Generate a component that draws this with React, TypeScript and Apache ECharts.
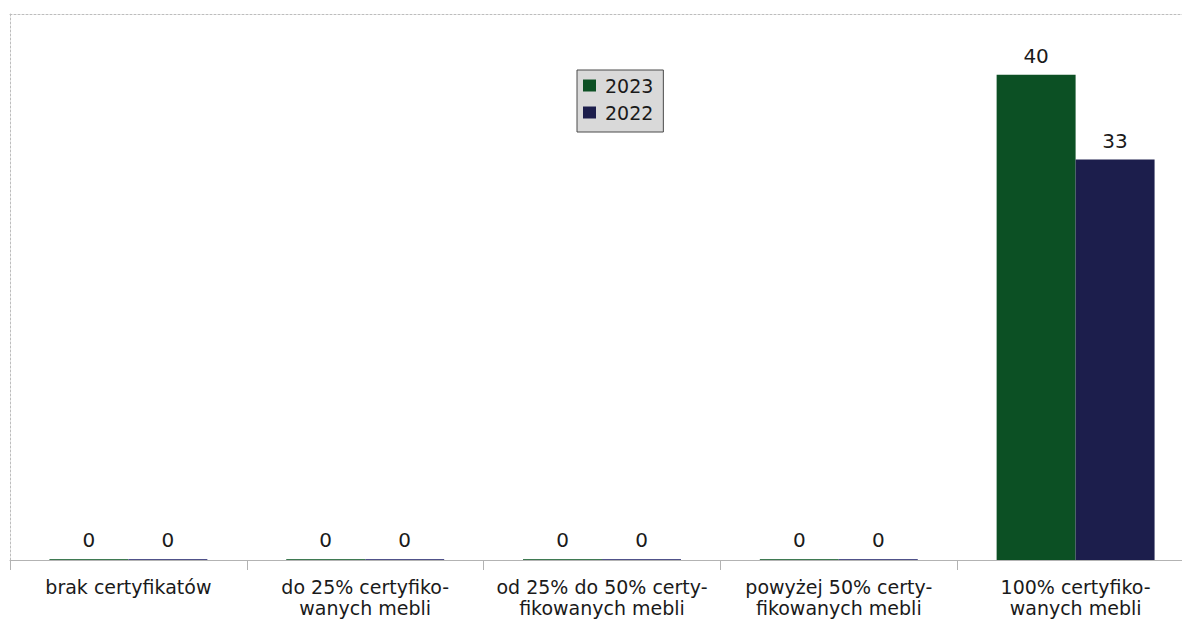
import React, { useEffect, useRef } from "react";
import * as echarts from "echarts";

const categories = [
  "brak certyfikatów",
  "do 25% certyfiko-\nwanych mebli",
  "od 25% do 50% certy-\nfikowanych mebli",
  "powyżej 50% certy-\nfikowanych mebli",
  "100% certyfiko-\nwanych mebli",
];
const series2023 = [0, 0, 0, 0, 40];
const series2022 = [0, 0, 0, 0, 33];
const seriesNames = ["2023", "2022"];
const colors = ["#0c5024", "#1c1e4c"];
const zeroColors = ["#3f7a52", "#50528a"];

const FONT = "DejaVu Sans";

export default function App() {
  const ref = useRef<HTMLDivElement>(null);
  useEffect(() => {
    if (!ref.current) return;
    const chart = echarts.init(ref.current, undefined, { renderer: "svg" });
    const label = {
      show: true,
      position: "top",
      distance: 9,
      fontFamily: FONT,
      fontSize: 20,
      color: "#1a1a1a",
    };
    const mkColor = (i: number) => (p: any) => (p.value === 0 ? zeroColors[i] : colors[i]);
    chart.setOption({
      animation: false,
      backgroundColor: "#ffffff",
      textStyle: { fontFamily: FONT },
      grid: { left: 10, top: 14, width: 1184, height: 546, containLabel: false },
      legend: {
        orient: "vertical",
        left: 577,
        top: 70,
        padding: [6, 10, 10, 6],
        itemGap: 8,
        itemWidth: 13,
        itemHeight: 12,
        icon: "rect",
        backgroundColor: "#d9d9d9",
        borderColor: "#4a4a4a",
        borderWidth: 1,
        borderRadius: 0,
        textStyle: {
          fontFamily: FONT,
          fontSize: 19,
          lineHeight: 19,
          color: "#1a1a1a",
          padding: [0, 0, 0, 4],
        },
        data: seriesNames.map((n, i) => ({ name: n, itemStyle: { color: colors[i] } })),
      },
      xAxis: [
        {
          type: "category",
          data: categories,
          position: "bottom",
          axisLine: { show: true, lineStyle: { color: "#b3b3b3", width: 1 } },
          axisTick: { show: true, length: 10, lineStyle: { color: "#b3b3b3" } },
          axisLabel: {
            interval: 0,
            margin: 16,
            fontFamily: FONT,
            fontSize: 19,
            lineHeight: 21,
            color: "#1a1a1a",
          },
          splitLine: { show: false },
        },
        {
          type: "category",
          data: categories,
          position: "top",
          axisLine: { show: true, lineStyle: { color: "#bdbdbd", width: 1, type: [2, 2] } },
          axisTick: { show: false },
          axisLabel: { show: false },
          splitLine: { show: false },
        },
      ],
      yAxis: {
        type: "value",
        min: 0,
        max: 45,
        axisLine: { show: true, lineStyle: { color: "#bdbdbd", width: 1, type: [2, 2] } },
        axisTick: { show: false },
        axisLabel: { show: false },
        splitLine: { show: false },
      },
      series: [
        {
          name: seriesNames[0],
          type: "bar",
          data: series2023,
          barGap: "0%",
          barCategoryGap: "33.3%",
          barMinHeight: 1,
          itemStyle: { color: mkColor(0) },
          label,
        },
        {
          name: seriesNames[1],
          type: "bar",
          data: series2022,
          barGap: "0%",
          barCategoryGap: "33.3%",
          barMinHeight: 1,
          itemStyle: { color: mkColor(1) },
          label,
        },
      ],
    });
    return () => chart.dispose();
  }, []);
  return (
    <div
      ref={ref}
      style={{ position: "fixed", left: 0, top: 0, width: 1200, height: 619 }}
    />
  );
}
